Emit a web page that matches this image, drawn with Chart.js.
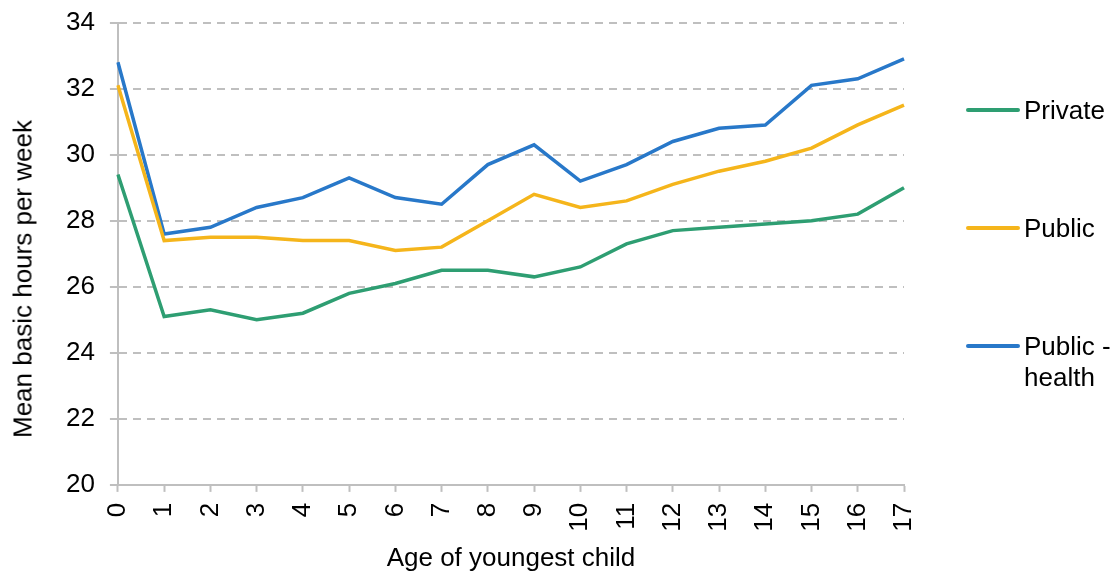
<!DOCTYPE html>
<html>
<head>
<meta charset="utf-8">
<script src="https://cdn.jsdelivr.net/npm/chart.js@4/dist/chart.umd.min.js"></script>
<style>
    html, body { margin: 0; padding: 0; background: #ffffff; overflow: hidden; }
    #wrap { position: relative; width: 1117px; height: 571px; overflow: hidden; font-family: Arial, "Liberation Sans", sans-serif; color: #000000; }
    /* canvas sits 8px higher so the top gridline lands near the page edge */
    #hours { position: absolute; left: 0; top: -8px; }
    #ytitle {
        position: absolute; left: 23px; top: 279px; font-size: 26px; white-space: nowrap;
        transform: translate(-50%, -50%) rotate(-90deg);
    }
    #legend { position: absolute; left: 0; top: 0; }
    .item { position: absolute; left: 966px; font-size: 26px; line-height: 31px; }
    .item .swatch { position: absolute; left: 0; width: 54px; height: 4px; border-radius: 2px; }
    .item .label { position: absolute; left: 58px; top: 0; white-space: nowrap; }
</style>
</head>
<body>
<div id="wrap">
    <canvas id="hours" width="1117" height="582"></canvas>
    <div id="ytitle">Mean basic hours per week</div>
    <div id="legend"></div>
</div>
<script>
var ages = ["0", "1", "2", "3", "4", "5", "6", "7", "8", "9", "10", "11", "12", "13", "14", "15", "16", "17"];
var privateHours = [29.4, 25.1, 25.3, 25.0, 25.2, 25.8, 26.1, 26.5, 26.5, 26.3, 26.6, 27.3, 27.7, 27.8, 27.9, 28.0, 28.2, 29.0];
var publicHours = [32.1, 27.4, 27.5, 27.5, 27.4, 27.4, 27.1, 27.2, 28.0, 28.8, 28.4, 28.6, 29.1, 29.5, 29.8, 30.2, 30.9, 31.5];
var healthHours = [32.8, 27.6, 27.8, 28.4, 28.7, 29.3, 28.7, 28.5, 29.7, 30.3, 29.2, 29.7, 30.4, 30.8, 30.9, 32.1, 32.3, 32.9];
var seriesNames = ["Private", "Public", "Public - health"];
var seriesColors = ["#2e9e72", "#f5b51b", "#2878c9"];
// legend rows, centre of each swatch
var legendRows = [110, 228, 346];

var fontFamily = 'Arial, "Liberation Sans", sans-serif';
var axisGrey = "#bfbfbf";

/**
 * one line per series, no point markers
 */
function makeDataset(i, values) {
    return {
        label: seriesNames[i],
        data: values,
        borderColor: seriesColors[i],
        backgroundColor: seriesColors[i],
        borderWidth: 3.5,
        pointRadius: 0,
        tension: 0,
        fill: false
    };
}

/**
 * legend on the right, "Public - health" breaks onto two lines
 */
function buildLegend() {
    var box = document.getElementById("legend");
    for (var i = 0; i < seriesNames.length; i++) {
        var item = document.createElement("div");
        item.className = "item";
        item.style.top = (legendRows[i] - 15) + "px";
        var sw = document.createElement("div");
        sw.className = "swatch";
        sw.style.top = "13px";
        sw.style.background = seriesColors[i];
        var lb = document.createElement("div");
        lb.className = "label";
        lb.innerHTML = seriesNames[i].replace(" - ", " -<br>");
        item.appendChild(sw);
        item.appendChild(lb);
        box.appendChild(item);
    }
}

function main() {
    var ctx = document.getElementById("hours").getContext("2d");
    new Chart(ctx, {
        type: "line",
        data: {
            labels: ages,
            datasets: [
                makeDataset(0, privateHours),
                makeDataset(1, publicHours),
                makeDataset(2, healthHours)
            ]
        },
        options: {
            responsive: false,
            animation: false,
            layout: { padding: { top: 14, right: 213, bottom: 0, left: 51 } },
            plugins: {
                legend: { display: false },
                tooltip: { enabled: false }
            },
            scales: {
                x: {
                    offset: false,
                    grid: {
                        drawOnChartArea: false,
                        drawTicks: true,
                        tickLength: 7,
                        tickWidth: 2,
                        tickColor: axisGrey
                    },
                    border: { display: true, color: axisGrey, width: 2 },
                    ticks: {
                        color: "#000000",
                        font: { family: fontFamily, size: 26 },
                        minRotation: 90,
                        maxRotation: 90,
                        padding: 11,
                        autoSkip: false
                    },
                    title: {
                        display: true,
                        text: "Age of youngest child",
                        color: "#000000",
                        font: { family: fontFamily, size: 26 },
                        padding: { top: 0, bottom: 0 }
                    }
                },
                y: {
                    min: 20,
                    max: 34,
                    ticks: {
                        stepSize: 2,
                        color: "#000000",
                        font: { family: fontFamily, size: 26 },
                        padding: 15
                    },
                    grid: {
                        color: axisGrey,
                        lineWidth: 2,
                        drawTicks: true,
                        tickLength: 8,
                        tickWidth: 2,
                        tickColor: axisGrey,
                        tickBorderDash: []
                    },
                    border: { display: true, color: axisGrey, width: 2, dash: [8, 6] }
                }
            }
        }
    });
    buildLegend();
}

main();
</script>
</body>
</html>
